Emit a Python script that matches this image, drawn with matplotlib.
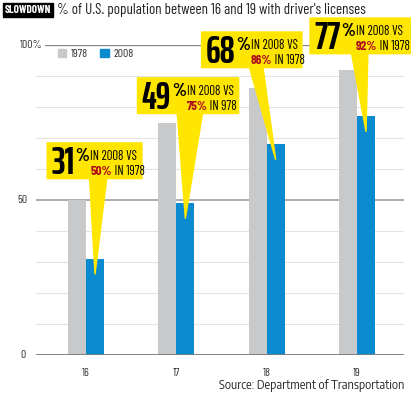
import matplotlib
matplotlib.use('Agg')
import matplotlib.pyplot as plt
import numpy as np
from matplotlib.patches import Polygon, Patch
from matplotlib.transforms import offset_copy, blended_transform_factory

plt.rcParams['font.family'] = ['Barlow Condensed', 'DejaVu Sans']
NUM_FONT = ['Saira ExtraCondensed', 'Barlow Condensed', 'DejaVu Sans']

# data
ages = ['16', '17', '18', '19']
pct_1978 = [50, 75, 86, 92]
pct_2008 = [31, 49, 68, 77]
callout_1978 = ['50%', '75%', '86%', '92%']
callout_tail = [' IN 1978', ' IN 978', ' IN 1978', ' IN 1978']  # "978" as printed

# callout layout (category units, percent units)
box_left = [-0.43, -0.43, -0.72, -0.52]
box_top = [68.4, 89.4, 104.2, 108.7]
box_w = [1.05, 1.12, 1.11, 1.13]
box_h = 11.5
stem = [(0.04, 0.23), (0.01, 0.29), (-0.19, -0.04), (-0.06, 0.12)]

GRAY = '#c8c9cb'
BLUE = '#0a8bd0'
YELLOW = '#ffe600'
RED = '#b0101e'

fig = plt.figure(figsize=(4.11, 3.93), dpi=100)
ax = fig.add_axes([36/411, 38/393, 368/411, 310/393])

x = np.arange(len(ages))
w = 0.2
ax.bar(x - w/2, pct_1978, w, color=GRAY, zorder=2)
ax.bar(x + w/2, pct_2008, w, color=BLUE, zorder=2)

ax.set_xlim(-0.553, 3.52)
ax.set_ylim(0, 100)
for s in ax.spines.values():
    s.set_visible(False)
ax.set_yticks([])
ax.set_xticks(x)
ax.set_xticklabels(ages, fontsize=8.5, color='#333333')
ax.tick_params(axis='x', length=0, pad=9)

# grid
for v in range(10, 100, 10):
    if v != 50:
        ax.axhline(v, color='#e3e3e3', lw=0.8, zorder=0)
ax.axhline(50, color='#a0a0a0', lw=1.2, zorder=1)
ax.axhline(100, xmin=9/368, color='#8a8a8a', lw=1.0, zorder=1)
ax.axhline(0, color='#7a7a7a', lw=1.3, zorder=3)

# y labels
ytr = blended_transform_factory(fig.transFigure, ax.transData)
for val, lab, xp in [(0, '0', 23), (50, '50', 22), (100, '100%', 31)]:
    ax.text(xp/411, val, lab, transform=ytr, ha='center', va='center',
            fontsize=8.5, color='#333333')

# legend
handles = [Patch(color=GRAY), Patch(color=BLUE)]
fig.legend(handles, ['1978', '2008'], ncol=2, frameon=False, loc='center left',
           bbox_to_anchor=(47/411, 1 - 54/393), fontsize=8.5, handlelength=0.75,
           handleheight=0.75, handletextpad=0.4, columnspacing=1.0,
           labelcolor='#333333')

# callouts
for i in range(len(ages)):
    L = i + box_left[i]
    T = box_top[i]
    R = L + box_w[i]
    B = T - box_h
    pts = [(L, B), (L, T), (R, T), (R, B), (i + stem[i][1], B),
           (i + w/2, pct_2008[i] - 5), (i + stem[i][0], B)]
    ax.add_patch(Polygon(pts, closed=True, color=YELLOW, clip_on=False, zorder=5))
    big = ax.text(L, B, str(pct_2008[i]),
                  transform=offset_copy(ax.transData, fig, x=4, y=5, units='dots'),
                  ha='left', va='baseline', fontsize=27, weight='bold', color='black',
                  family=NUM_FONT, zorder=6, clip_on=False)
    pc = ax.annotate('%', xy=(1, B), xycoords=(big, 'data'), xytext=(1, 18),
                     textcoords='offset pixels', ha='left', va='baseline',
                     fontsize=13, weight='bold', color='black', zorder=6)
    l1 = ax.annotate('IN 2008 VS', xy=(1, B), xycoords=(pc, 'data'), xytext=(1, 19),
                     textcoords='offset pixels', ha='left', va='baseline',
                     fontsize=9.3, color='black', zorder=6)
    l2 = ax.annotate(callout_1978[i], xy=(0, B), xycoords=(l1, 'data'), xytext=(0, 4),
                     textcoords='offset pixels', ha='left', va='baseline',
                     fontsize=9.3, weight='bold', color=RED, zorder=6)
    ax.annotate(callout_tail[i], xy=(1, B), xycoords=(l2, 'data'), xytext=(0, 4),
                textcoords='offset pixels', ha='left', va='baseline',
                fontsize=9.3, color='black', zorder=6)

# title
fig.text(5/411, 1 - 10/393, 'SLOWDOWN', ha='left', va='center', fontsize=8,
         weight='bold', color='white',
         bbox=dict(boxstyle='square,pad=0.15', fc='black', ec='black'))
fig.text(57/411, 1 - 10/393, "% of U.S. population between 16 and 19 with driver's licenses",
         ha='left', va='center', fontsize=10.8, color='#222222')

fig.text(404/411, 1 - 385/393, 'Source: Department of Transportation',
         ha='right', va='center', fontsize=8.5, color='#222222',
         family=['Encode Sans Semi Condensed', 'DejaVu Sans'])

fig.savefig('out.png', dpi=100)
